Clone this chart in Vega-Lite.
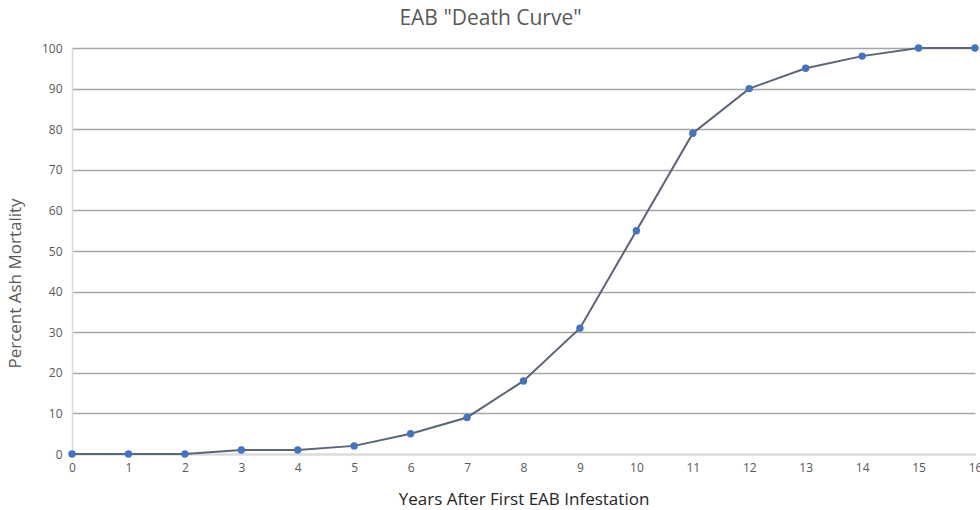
{
  "$schema": "https://vega.github.io/schema/vega-lite/v6.json",
  "autosize": "none",
  "width": 903,
  "height": 406,
  "padding": {"left": 72, "top": 48, "right": 5, "bottom": 56},
  "background": "white",
  "title": {"text": "EAB \"Death Curve\"", "font": "Open Sans", "fontSize": 21, "fontWeight": "normal", "color": "#595959", "anchor": "middle", "dx": -33, "offset": 13},
  "config": {"view": {"stroke": null}, "font": "Open Sans"},
  "data": {"values": [
    {"year": 0, "pct": 0}, {"year": 1, "pct": 0}, {"year": 2, "pct": 0}, {"year": 3, "pct": 1},
    {"year": 4, "pct": 1}, {"year": 5, "pct": 2}, {"year": 6, "pct": 5}, {"year": 7, "pct": 9},
    {"year": 8, "pct": 18}, {"year": 9, "pct": 31}, {"year": 10, "pct": 55}, {"year": 11, "pct": 79},
    {"year": 12, "pct": 90}, {"year": 13, "pct": 95}, {"year": 14, "pct": 98}, {"year": 15, "pct": 100},
    {"year": 16, "pct": 100}
  ]},
  "encoding": {
    "x": {"field": "year", "type": "quantitative", "scale": {"domain": [0, 16], "nice": false},
      "axis": {"title": "Years After First EAB Infestation", "values": [0,1,2,3,4,5,6,7,8,9,10,11,12,13,14,15,16], "grid": false, "ticks": false, "labelFlush": false, "labelOverlap": false, "domainColor": "#d9d9d9", "domainWidth": 1.5, "labelFontSize": 12, "labelColor": "#595959", "labelPadding": 8, "titleFontSize": 17, "titleFontWeight": "normal", "titleColor": "#262626", "titleY": 37}},
    "y": {"field": "pct", "type": "quantitative", "scale": {"domain": [0, 100], "nice": false},
      "axis": {"title": "Percent Ash Mortality", "values": [0,10,20,30,40,50,60,70,80,90,100], "grid": true, "gridColor": "#a6a6a6", "gridWidth": 1.5, "ticks": false, "labelFlush": false, "domainColor": "#d9d9d9", "domainWidth": 1.5, "labelFontSize": 12, "labelColor": "#595959", "labelPadding": 10, "titleFontSize": 17, "titleFontWeight": "normal", "titleColor": "#595959", "titleX": -48, "titleY": 235}}
  },
  "layer": [
    {"mark": {"type": "line", "interpolate": "linear", "color": "#5b6577", "strokeWidth": 2}},
    {"mark": {"type": "point", "filled": true, "color": "#4472c4", "size": 55, "opacity": 1}}
  ]
}
